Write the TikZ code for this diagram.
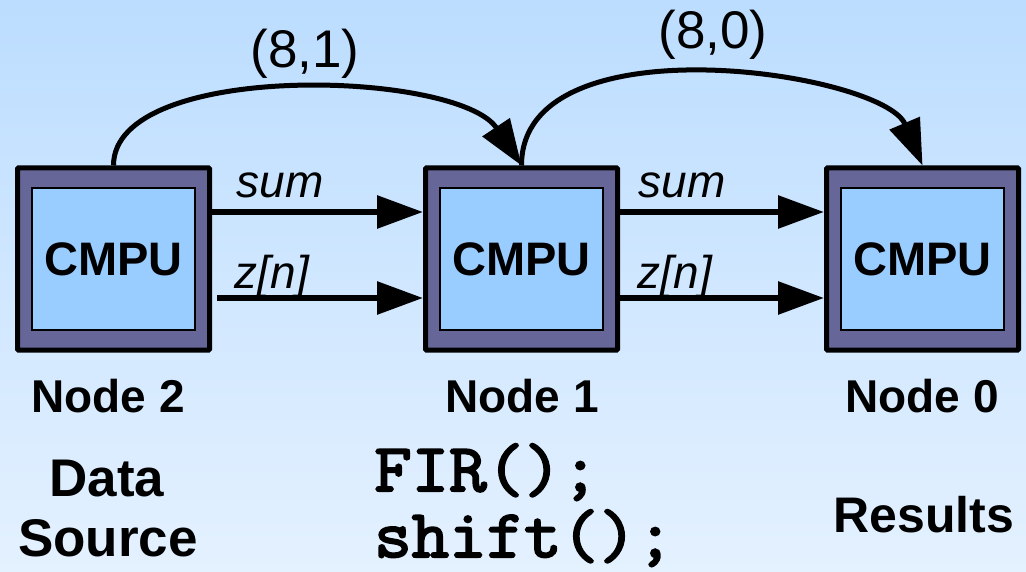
\documentclass[tikz,border=0pt]{standalone}
\usepackage{fontspec}
\setmainfont{Liberation Sans}
\newfontfamily\codefam[FakeBold=3, FakeStretch=1.07]{Latin Modern Mono}
\usetikzlibrary{arrows.meta}

\definecolor{cpuedge}{HTML}{666699}
\definecolor{cpucore}{HTML}{99CCFF}
\definecolor{bgtop}{HTML}{BCDDFF}
\definecolor{bgbot}{HTML}{E4F1FF}
\newcommand\bigtxt{\fontsize{46}{54}\selectfont}
\newcommand\hugetxt{\fontsize{53}{60}\selectfont}
\newcommand\codetxt{\fontsize{68}{76}\selectfont\codefam}

\tikzset{
  cmpu/.style={draw, line width=5pt, fill=cpuedge, rounded corners=1pt,
    minimum width=192pt, minimum height=182pt, inner sep=0},
  core/.style={draw, line width=1.5pt, fill=cpucore,
    minimum width=163pt, minimum height=142pt, inner sep=0,
    font=\fontsize{47}{54}\selectfont\bfseries},
  link/.style={line width=6pt, -{Triangle[length=46pt, width=32pt]}},
  hop/.style={line width=5pt, -{Triangle[length=46pt, width=32pt]}},
  lbl/.style={font=\bigtxt, anchor=base, inner sep=0},
}

\begin{document}
\begin{tikzpicture}[x=1pt, y=-1pt]
  \useasboundingbox (0,0) rectangle (1026,572);
  \shade [top color=bgtop, bottom color=bgbot] (0,0) rectangle (1026,572);

  % the three processors
  \node [cmpu] (n2) at (113.5,259) {};
  \node [core] (c2) at (n2) {CMPU};
  \node [cmpu] (n1) at (521.5,259) {};
  \node [core] (c1) at (n1) {CMPU};
  \node [cmpu] (n0) at (922.5,259) {};
  \node [core] (c0) at (n0) {CMPU};

  % data links
  \draw [link] ([yshift=47pt]n2.east) -- ([yshift=47pt]n1.west);
  \draw [link] ([xshift=5pt, yshift=-39pt]n2.east) -- ([yshift=-39pt]n1.west);
  \draw [link] ([yshift=47pt]n1.east) -- ([yshift=47pt]n0.west);
  \draw [link] ([yshift=-39pt]n1.east) -- ([yshift=-39pt]n0.west);

  \node [lbl] (s21) at (280,198) {\itshape sum};
  \node [lbl] (z21) at (272,288) {\itshape z[n]};
  \node [lbl] (s10) at (682,198) {\itshape sum};
  \node [lbl] (z10) at (675,288) {\itshape z[n]};

  % routed hops
  \draw [hop] (n2.north) .. controls (113.5,60) and (458,70) .. (n1.north);
  \draw [hop] (n1.north) .. controls (521.5,18) and (883,72) .. (n0.north);
  \node [lbl, font=\hugetxt] (h21) at (305,68) {(8,1)};
  \node [lbl, font=\hugetxt] (h10) at (713,49) {(8,0)};

  \node [lbl, font=\bigtxt\bfseries] (l2) at (108,412) {Node 2};
  \node [lbl, font=\bigtxt\bfseries] (l1) at (522,412) {Node 1};
  \node [lbl, font=\bigtxt\bfseries] (l0) at (922,412) {Node 0};

  \node [lbl, font=\hugetxt\bfseries] (src) at (107,496) {Data};
  \node [lbl, font=\hugetxt\bfseries] (src2) at (108,556) {Source};
  \node [lbl, font=\codetxt, anchor=base west] (fir) at (374,491) {FIR();};
  \node [lbl, font=\codetxt, anchor=base west] (shf) at (374,557) {shift();};
  \node [lbl, font=\fontsize{50}{58}\selectfont\bfseries] (res) at (924,532) {Results};
\end{tikzpicture}
\end{document}
